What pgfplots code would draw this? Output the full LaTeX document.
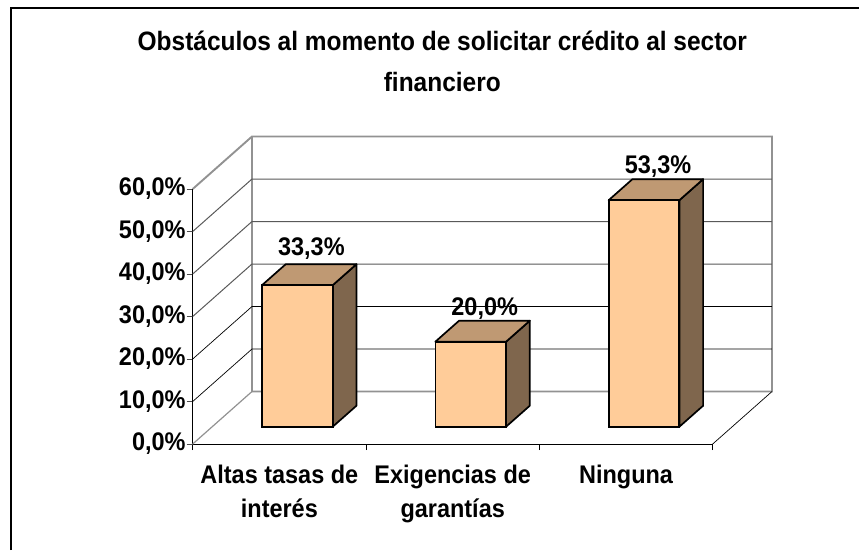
\documentclass[border=0pt]{standalone}
\usepackage{pgfplots}
\pgfplotsset{compat=1.18}
\usepackage{fontspec}
\setmainfont[FakeStretch=0.92]{Liberation Sans}
\definecolor{frontc}{HTML}{FFCC99}
\definecolor{topc}{HTML}{BF9973}
\definecolor{sidec}{HTML}{7F664D}
\definecolor{wallc}{HTML}{929292}
\newcommand{\lblfont}{\fontsize{25.5}{34}\selectfont\bfseries}
\begin{document}
\begin{tikzpicture}[x=1pt,y=1pt]
\path[use as bounding box] (0,0) rectangle (859,550);
\draw[black,line width=2.2pt] (11,0) -- (11,542) -- (859,542);
\begin{axis}[
  name=main, at={(192.7pt,106pt)}, anchor=south west,
  scale only axis, width=520pt, height=255pt,
  xmin=0, xmax=3, ymin=0, ymax=60, clip=false,
  axis lines=left, axis line style={-, black, line width=1pt},
  xtick={0,1,2,3}, xticklabels={},
  extra x ticks={0.5,1.5,2.5},
  extra x tick labels={{Altas tasas de\\interés},{Exigencias de\\garantías},{Ninguna}},
  extra x tick style={major tick length=0pt},
  x tick label style={align=center, font=\lblfont, yshift=-17pt},
  x tick style={black, line width=0.8pt},
  ytick={0,10,20,30,40,50,60},
  yticklabel={\pgfmathprintnumber[fixed,fixed zerofill,precision=1,use comma,assume math mode=true]{\tick}\%},
  y tick label style={font=\lblfont, inner sep=1pt},
  major tick length=6pt,
  tick align=outside,
  y tick style={black!70, line width=0.8pt},
  title={Obstáculos al momento de solicitar crédito al sector\\financiero},
  title style={align=center, font=\fontsize{26.6}{41}\selectfont\bfseries,
    at={(axis description cs:0.48,1.478)}, anchor=center},
]
% floor and walls
\addplot[draw=none,fill=white,forget plot] coordinates {(0.342,12.35)(3.342,12.35)(3.342,72.35)(0.342,72.35)} -- cycle;
\addplot[wallc,line width=1.9pt,forget plot] coordinates {(0,60)(0.342,72.35)(3.342,72.35)(3.342,12.35)(0.342,12.35)(0.342,72.35)};
\addplot[wallc,line width=1.2pt,forget plot] coordinates {(0,0)(0.342,12.35)};
\addplot[black,line width=0.7pt,forget plot] coordinates {(3,0)(3.342,12.35)};
\addplot[black!65,line width=1pt,forget plot] coordinates {(0,50)(0.342,62.35)(3.342,62.35)};
\addplot[black!65,line width=1pt,forget plot] coordinates {(0,40)(0.342,52.35)(3.342,52.35)};
\addplot[black!65,line width=1pt,forget plot] coordinates {(0,30)(0.342,42.35)(3.342,42.35)};
\addplot[black,line width=0.7pt,forget plot] coordinates {(0,20)(0.342,32.35)(3.342,32.35)};
\addplot[black,line width=0.7pt,forget plot] coordinates {(0,10)(0.342,22.35)(3.342,22.35)};
\end{axis}
\begin{axis}[
  at={(210.7pt,123.3pt)}, anchor=south west,
  scale only axis, width=520pt, height=255pt,
  xmin=0, xmax=3, ymin=0, ymax=60, clip=false, hide axis,
]
\addplot[fill=sidec,draw=black,line width=1.7pt,line join=round,forget plot] coordinates {(0.704,0)(0.841,4.94)(0.841,38.24)(0.704,33.3)} -- cycle;
\addplot[fill=topc,draw=black,line width=1.7pt,line join=round,forget plot] coordinates {(0.296,33.3)(0.704,33.3)(0.841,38.24)(0.433,38.24)} -- cycle;
\addplot[fill=sidec,draw=black,line width=1.7pt,line join=round,forget plot] coordinates {(1.704,0)(1.841,4.94)(1.841,24.94)(1.704,20)} -- cycle;
\addplot[fill=topc,draw=black,line width=1.7pt,line join=round,forget plot] coordinates {(1.296,20)(1.704,20)(1.841,24.94)(1.433,24.94)} -- cycle;
\addplot[fill=sidec,draw=black,line width=1.7pt,line join=round,forget plot] coordinates {(2.704,0)(2.841,4.94)(2.841,58.24)(2.704,53.3)} -- cycle;
\addplot[fill=topc,draw=black,line width=1.7pt,line join=round,forget plot] coordinates {(2.296,53.3)(2.704,53.3)(2.841,58.24)(2.433,58.24)} -- cycle;
\addplot[ybar, bar width=70.6pt, bar shift=0pt, fill=frontc, draw=black, line width=1.7pt,
  visualization depends on={\thisrow{dy}\as\labeldy},
  nodes near coords={\pgfmathprintnumber[fixed,fixed zerofill,precision=1,use comma,assume math mode=true]{\pgfplotspointmeta}\%},
  every node near coord/.append style={font=\lblfont, text=black, anchor=center, xshift=14pt, yshift=\labeldy pt},
] table[x=x,y=v] {
x v dy
0.5 33.3 37
1.5 20.0 33.5
2.5 53.3 34
};
\end{axis}
\end{tikzpicture}
\end{document}
